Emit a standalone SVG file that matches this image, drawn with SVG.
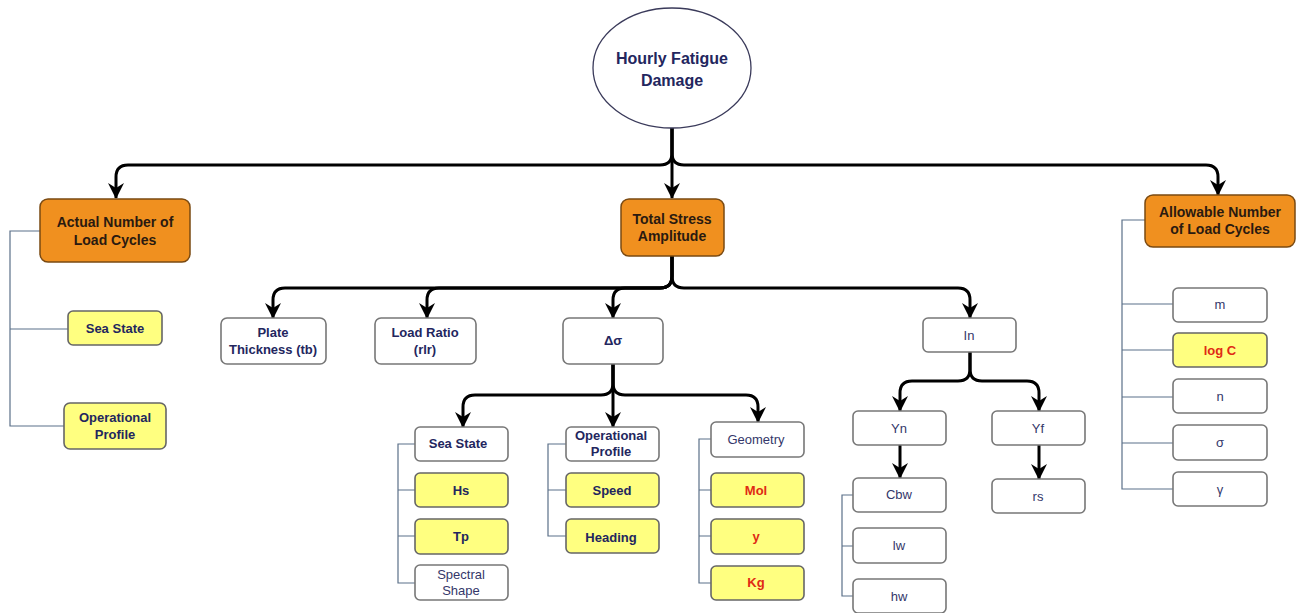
<svg xmlns="http://www.w3.org/2000/svg" width="1301" height="613" viewBox="0 0 1301 613">
<style>
text{font-family:"Liberation Sans",Arial,sans-serif;text-anchor:middle;dominant-baseline:central}
.b{font-weight:bold;font-size:13px;fill:#23265e}
.r{font-size:13px;fill:#34376a}
.red{font-weight:bold;font-size:13px;fill:#e02a14}
.org rect{fill:#f0901f;stroke:#7a4a12;stroke-width:1.5}
.org text{font-weight:bold;font-size:14px;fill:#2a1a10}
.w{fill:#fff;stroke:#777;stroke-width:1.6}
.y{fill:#ffff80;stroke:#666;stroke-width:1.6}
.con path{fill:none;stroke:#000;stroke-width:3;marker-end:url(#ah)}
.tree path{fill:none;stroke:#5b7089;stroke-width:1.2}
</style>
<defs>
<marker id="ah" viewBox="0 0 16 16" markerWidth="16" markerHeight="16" refX="15" refY="8" orient="auto" markerUnits="userSpaceOnUse">
<path d="M0,0 L16,8 L0,16 L5,8 z" fill="#000"/>
</marker>
</defs>
<rect width="1301" height="613" fill="#fff"/>

<g class="tree">
<path d="M40,231 H10 V426 H64 M10,329 H68"/>
<path d="M415,444 H398 V583 H415 M398,490 H415 M398,536 H415"/>
<path d="M566,444 H548 V536 H566 M548,490 H566"/>
<path d="M711,439 H699 V583 H711 M699,490 H711 M699,536 H711"/>
<path d="M853,495 H842 V596 H853 M842,546 H853"/>
<path d="M1145,220 H1122 V489 H1173 M1122,304 H1173 M1122,350 H1173 M1122,397 H1173 M1122,443 H1173"/>
</g>

<g class="con">
<path d="M672,128 V198"/>
<path d="M672,128 V153 Q672,165 660,165 H128 Q116,165 116,177 V198"/>
<path d="M672,128 V153 Q672,165 684,165 H1206 Q1218,165 1218,177 V195"/>
<path d="M672,256 V276 Q672,288 660,288 H285 Q273,288 273,300 V318"/>
<path d="M672,256 V276 Q672,288 660,288 H439 Q427,288 427,300 V318"/>
<path d="M672,256 V276 Q672,288 660,288 H625 Q613,288 613,300 V318"/>
<path d="M672,256 V276 Q672,288 684,288 H958 Q970,288 970,300 V318"/>
<path d="M613,364 V383 Q613,395 601,395 H475 Q463,395 463,407 V427"/>
<path d="M613,364 V427"/>
<path d="M613,364 V383 Q613,395 625,395 H746 Q758,395 758,407 V422"/>
<path d="M970,352 V369 Q970,381 958,381 H912 Q900,381 900,393 V411"/>
<path d="M970,352 V369 Q970,381 982,381 H1027 Q1039,381 1039,393 V411"/>
<path d="M900,445 V478"/>
<path d="M1039,445 V479"/>
</g>

<g id="root">
<ellipse cx="672" cy="68" rx="79" ry="60" fill="#fff" stroke="#3a3a5a" stroke-width="1.3"/>
<text x="672" y="58" font-weight="bold" font-size="16" fill="#23265e">Hourly Fatigue</text>
<text x="672" y="80" font-weight="bold" font-size="16" fill="#23265e">Damage</text>
</g>

<g id="actual" class="org"><rect x="40" y="199" width="150" height="63" rx="8"/><text x="115" y="222">Actual Number of</text><text x="115" y="240">Load Cycles</text></g>
<g id="total" class="org"><rect x="621" y="199" width="103" height="57" rx="8"/><text x="672" y="219">Total Stress</text><text x="672" y="236">Amplitude</text></g>
<g id="allow" class="org"><rect x="1145" y="195" width="150" height="52" rx="8"/><text x="1220" y="212">Allowable Number</text><text x="1220" y="229">of Load Cycles</text></g>

<g id="seastate1"><rect class="y" x="68" y="311" width="94" height="34" rx="5"/><text class="b" x="115" y="328">Sea State</text></g>
<g id="opprof1"><rect class="y" x="64" y="403" width="102" height="46" rx="6"/><text class="b" x="115" y="417">Operational</text><text class="b" x="115" y="434">Profile</text></g>

<g id="plate"><rect class="w" x="221" y="318" width="105" height="46" rx="6"/><text class="b" x="273" y="332">Plate</text><text class="b" x="273" y="349">Thickness (tb)</text></g>
<g id="loadratio"><rect class="w" x="375" y="318" width="101" height="46" rx="6"/><text class="b" x="425" y="332">Load Ratio</text><text class="b" x="425" y="349">(rlr)</text></g>
<g id="dsigma"><rect class="w" x="563" y="318" width="100" height="46" rx="6"/><text class="b" x="613" y="340" font-size="15">Δσ</text></g>
<g id="in"><rect class="w" x="923" y="318" width="93" height="34" rx="5"/><text class="r" x="969" y="335">In</text></g>

<g id="seastate2"><rect class="w" x="415" y="427" width="93" height="34" rx="5"/><text class="b" x="458" y="443">Sea State</text></g>
<g id="hs"><rect class="y" x="415" y="473" width="93" height="34" rx="5"/><text class="b" x="461" y="490">Hs</text></g>
<g id="tp"><rect class="y" x="415" y="519" width="93" height="35" rx="5"/><text class="b" x="461" y="536">Tp</text></g>
<g id="spectral"><rect class="w" x="415" y="565" width="93" height="35" rx="5"/><text class="r" x="461" y="574">Spectral</text><text class="r" x="461" y="590">Shape</text></g>

<g id="opprof2"><rect class="w" x="566" y="427" width="93" height="34" rx="5"/><text class="b" x="611" y="435">Operational</text><text class="b" x="611" y="451">Profile</text></g>
<g id="speed"><rect class="y" x="566" y="473" width="93" height="34" rx="5"/><text class="b" x="612" y="490">Speed</text></g>
<g id="heading"><rect class="y" x="566" y="519" width="93" height="34" rx="5"/><text class="b" x="611" y="537">Heading</text></g>

<g id="geometry"><rect class="w" x="711" y="422" width="93" height="35" rx="5"/><text class="r" x="756" y="439">Geometry</text></g>
<g id="mol"><rect class="y" x="711" y="473" width="93" height="34" rx="5"/><text class="red" x="756" y="490">Mol</text></g>
<g id="yy"><rect class="y" x="711" y="519" width="93" height="35" rx="5"/><text class="red" x="756" y="536">y</text></g>
<g id="kg"><rect class="y" x="711" y="566" width="93" height="34" rx="5"/><text class="red" x="756" y="582">Kg</text></g>

<g id="yn"><rect class="w" x="853" y="411" width="93" height="34" rx="5"/><text class="r" x="899" y="428">Yn</text></g>
<g id="yf"><rect class="w" x="992" y="411" width="93" height="34" rx="5"/><text class="r" x="1038" y="428">Yf</text></g>
<g id="cbw"><rect class="w" x="853" y="478" width="93" height="34" rx="5"/><text class="r" x="899" y="494">Cbw</text></g>
<g id="lw"><rect class="w" x="853" y="528" width="93" height="35" rx="5"/><text class="r" x="899" y="545">lw</text></g>
<g id="hw"><rect class="w" x="853" y="579" width="93" height="34" rx="5"/><text class="r" x="899" y="596">hw</text></g>
<g id="rs"><rect class="w" x="992" y="479" width="93" height="34" rx="5"/><text class="r" x="1038" y="496">rs</text></g>

<g id="m"><rect class="w" x="1173" y="288" width="94" height="34" rx="5"/><text class="r" x="1220" y="304">m</text></g>
<g id="logc"><rect class="y" x="1173" y="333" width="94" height="34" rx="5"/><text class="red" x="1220" y="350">log C</text></g>
<g id="n"><rect class="w" x="1173" y="379" width="94" height="34" rx="5"/><text class="r" x="1220" y="396">n</text></g>
<g id="sigma"><rect class="w" x="1173" y="425" width="94" height="35" rx="5"/><text class="r" x="1220" y="442">σ</text></g>
<g id="gamma"><rect class="w" x="1173" y="472" width="94" height="34" rx="5"/><text class="r" x="1220" y="489">γ</text></g>
</svg>
